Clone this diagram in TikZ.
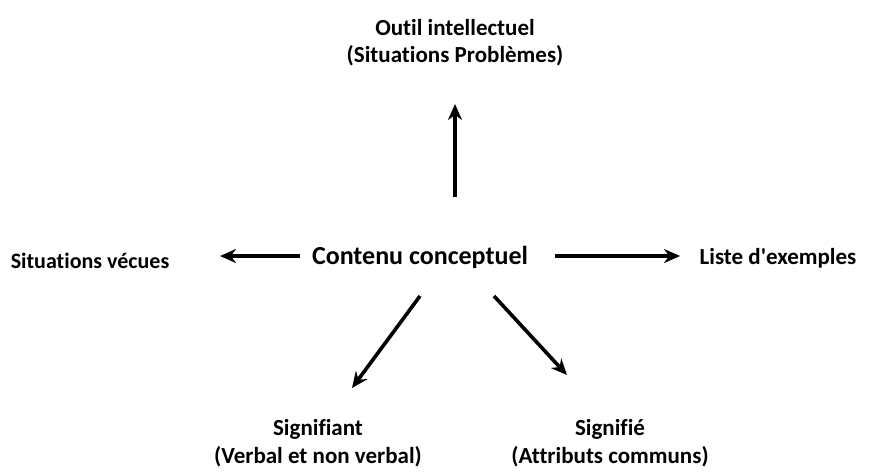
\documentclass[tikz,border=0pt]{standalone}
\usepackage{fontspec}
\setmainfont{Carlito}[Ligatures={NoCommon}]
\usetikzlibrary{calc,arrows.meta}

\tikzset{
  lbl/.style={font=\fontsize{23}{28}\selectfont\bfseries, align=center, inner sep=0pt},
  arr/.style={-{Stealth[length=16pt,width=14pt]}, line width=3.6pt}
}

\begin{document}
\begin{tikzpicture}[x=1pt,y=-1pt]
\useasboundingbox (0,0) rectangle (869,475);

\node[lbl, font=\fontsize{23}{27}\selectfont\bfseries] (outil) at (455,43) {Outil intellectuel\\(Situations Problèmes)};
\node[lbl, font=\fontsize{26}{30}\selectfont\bfseries] (contenu) at (420,257) {Contenu conceptuel};
\node[lbl, font=\fontsize{22}{28}\selectfont\bfseries] (vecues) at (90,261) {Situations vécues};
\node[lbl] (liste) at (778,258) {Liste d\textquotesingle exemples};
\node[lbl] (signifiant) at (318,443) {Signifiant\\(Verbal et non verbal)};
\node[lbl] (signifie) at (610,443) {Signifié\\(Attributs communs)};

% fleches
\draw[arr] ($(contenu.center)+(35,-60)$) -- ($(outil.center)+(0,61)$);
\draw[arr] ($(contenu.center)+(-120,-1)$) -- ($(vecues.center)+(130,-5)$);
\draw[arr] ($(contenu.center)+(135,-1)$) -- ($(liste.center)+(-98,-2)$);
\draw[arr] ($(contenu.center)+(0,39)$) -- ($(signifiant.center)+(34,-55)$);
\draw[arr] ($(contenu.center)+(74,39)$) -- ($(signifie.center)+(-43,-68)$);
\end{tikzpicture}
\end{document}
